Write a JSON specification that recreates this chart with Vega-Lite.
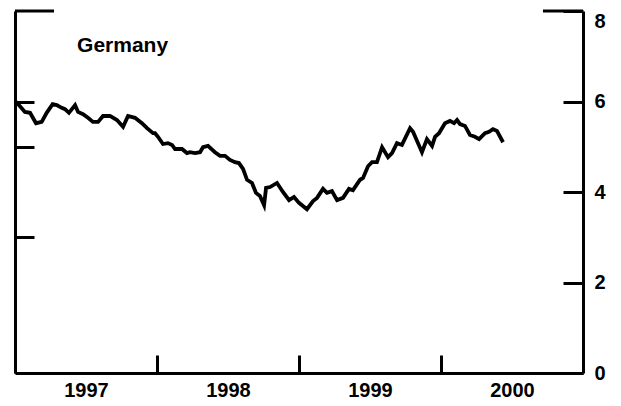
{
  "$schema": "https://vega.github.io/schema/vega-lite/v6.json",
  "width": 568,
  "height": 362,
  "autosize": "none",
  "padding": {"left": 15, "top": 11, "right": 38, "bottom": 33},
  "background": "white",
  "config": {
    "view": {"stroke": null},
    "font": "Liberation Sans",
    "axis": {
      "domainColor": "black", "domainWidth": 3, "tickColor": "black", "tickWidth": 3,
      "labelColor": "black", "labelFont": "Liberation Sans", "labelFontSize": 20, "labelFontWeight": "bold",
      "grid": false, "title": null, "labelFlush": false, "labelOverlap": false
    }
  },
  "datasets": {
    "series": [
      {"t": 1997.000, "v": 6.01}, {"t": 1997.020, "v": 5.95}, {"t": 1997.070, "v": 5.77}, {"t": 1997.106, "v": 5.75},
      {"t": 1997.148, "v": 5.52}, {"t": 1997.188, "v": 5.55}, {"t": 1997.223, "v": 5.75}, {"t": 1997.265, "v": 5.94},
      {"t": 1997.294, "v": 5.92}, {"t": 1997.329, "v": 5.86}, {"t": 1997.352, "v": 5.83}, {"t": 1997.380, "v": 5.75},
      {"t": 1997.423, "v": 5.92}, {"t": 1997.444, "v": 5.77}, {"t": 1997.479, "v": 5.72}, {"t": 1997.514, "v": 5.64},
      {"t": 1997.549, "v": 5.55}, {"t": 1997.585, "v": 5.55}, {"t": 1997.620, "v": 5.68}, {"t": 1997.669, "v": 5.68},
      {"t": 1997.718, "v": 5.59}, {"t": 1997.761, "v": 5.44}, {"t": 1997.796, "v": 5.68}, {"t": 1997.845, "v": 5.64},
      {"t": 1997.894, "v": 5.52}, {"t": 1997.930, "v": 5.41}, {"t": 1997.972, "v": 5.30}, {"t": 1997.986, "v": 5.30},
      {"t": 1998.007, "v": 5.22}, {"t": 1998.042, "v": 5.06}, {"t": 1998.077, "v": 5.08}, {"t": 1998.106, "v": 5.04},
      {"t": 1998.127, "v": 4.95}, {"t": 1998.176, "v": 4.95}, {"t": 1998.211, "v": 4.86}, {"t": 1998.232, "v": 4.88},
      {"t": 1998.268, "v": 4.86}, {"t": 1998.303, "v": 4.88}, {"t": 1998.324, "v": 4.99}, {"t": 1998.359, "v": 5.02},
      {"t": 1998.408, "v": 4.88}, {"t": 1998.444, "v": 4.80}, {"t": 1998.479, "v": 4.80}, {"t": 1998.514, "v": 4.71},
      {"t": 1998.549, "v": 4.66}, {"t": 1998.577, "v": 4.64}, {"t": 1998.606, "v": 4.51}, {"t": 1998.634, "v": 4.27},
      {"t": 1998.669, "v": 4.20}, {"t": 1998.697, "v": 3.98}, {"t": 1998.725, "v": 3.91}, {"t": 1998.754, "v": 3.71},
      {"t": 1998.768, "v": 4.09}, {"t": 1998.796, "v": 4.11}, {"t": 1998.845, "v": 4.20}, {"t": 1998.887, "v": 4.00},
      {"t": 1998.930, "v": 3.82}, {"t": 1998.965, "v": 3.89}, {"t": 1999.000, "v": 3.76}, {"t": 1999.056, "v": 3.62},
      {"t": 1999.099, "v": 3.80}, {"t": 1999.127, "v": 3.87}, {"t": 1999.169, "v": 4.07}, {"t": 1999.197, "v": 3.98},
      {"t": 1999.232, "v": 4.02}, {"t": 1999.268, "v": 3.82}, {"t": 1999.310, "v": 3.87}, {"t": 1999.352, "v": 4.07},
      {"t": 1999.380, "v": 4.04}, {"t": 1999.430, "v": 4.27}, {"t": 1999.451, "v": 4.31}, {"t": 1999.486, "v": 4.57},
      {"t": 1999.514, "v": 4.66}, {"t": 1999.549, "v": 4.66}, {"t": 1999.585, "v": 4.99}, {"t": 1999.627, "v": 4.77},
      {"t": 1999.655, "v": 4.86}, {"t": 1999.690, "v": 5.08}, {"t": 1999.725, "v": 5.04}, {"t": 1999.782, "v": 5.41},
      {"t": 1999.803, "v": 5.33}, {"t": 1999.866, "v": 4.88}, {"t": 1999.901, "v": 5.17}, {"t": 1999.937, "v": 5.02},
      {"t": 1999.958, "v": 5.22}, {"t": 1999.986, "v": 5.30}, {"t": 2000.028, "v": 5.52}, {"t": 2000.063, "v": 5.57},
      {"t": 2000.092, "v": 5.52}, {"t": 2000.113, "v": 5.59}, {"t": 2000.134, "v": 5.50}, {"t": 2000.169, "v": 5.46},
      {"t": 2000.204, "v": 5.26}, {"t": 2000.239, "v": 5.22}, {"t": 2000.268, "v": 5.17}, {"t": 2000.310, "v": 5.30},
      {"t": 2000.338, "v": 5.33}, {"t": 2000.366, "v": 5.39}, {"t": 2000.394, "v": 5.35}, {"t": 2000.437, "v": 5.10}
    ],
    "label": [{"t": 1997.437, "v": 7.09, "name": "Germany"}],
    "bracket": [
      {"t": 1997.0, "t2": 1997.275, "v": 8},
      {"t": 2000.718, "t2": 2001.0, "v": 8}
    ]
  },
  "layer": [
    {
      "data": {"name": "series"},
      "mark": {"type": "line", "color": "black", "strokeWidth": 3.8, "strokeJoin": "miter"},
      "encoding": {
        "x": {
          "field": "t", "type": "quantitative",
          "scale": {"domain": [1997, 2001], "nice": false, "zero": false},
          "axis": {
            "orient": "bottom", "values": [1997, 1998, 1999, 2000], "format": "d",
            "tickSize": -18, "labelOffset": 71, "labelPadding": 25, "labelAlign": "center"
          }
        },
        "y": {
          "field": "v", "type": "quantitative",
          "scale": {"domain": [0, 8], "nice": false, "zero": false},
          "axis": {"orient": "left", "values": [3, 5, 6], "labels": false, "tickSize": -19}
        }
      }
    },
    {
      "data": {"name": "label"},
      "mark": {"type": "text", "align": "left", "baseline": "alphabetic", "fontSize": 21, "fontWeight": "bold", "font": "Liberation Sans", "color": "black"},
      "encoding": {
        "x": {"field": "t", "type": "quantitative"},
        "y": {
          "field": "v", "type": "quantitative",
          "axis": {
            "orient": "right", "values": [0, 2, 4, 6, 8], "tickSize": -20, "labelPadding": 31,
            "labelBaseline": {"condition": {"test": "datum.value == 8", "value": "top"}, "value": "middle"}
          }
        },
        "text": {"field": "name"}
      }
    },
    {
      "data": {"name": "bracket"},
      "mark": {"type": "rule", "color": "black", "strokeWidth": 3},
      "encoding": {
        "x": {"field": "t", "type": "quantitative"},
        "x2": {"field": "t2"},
        "y": {"field": "v", "type": "quantitative", "axis": null}
      }
    }
  ],
  "resolve": {"axis": {"y": "independent"}}
}
